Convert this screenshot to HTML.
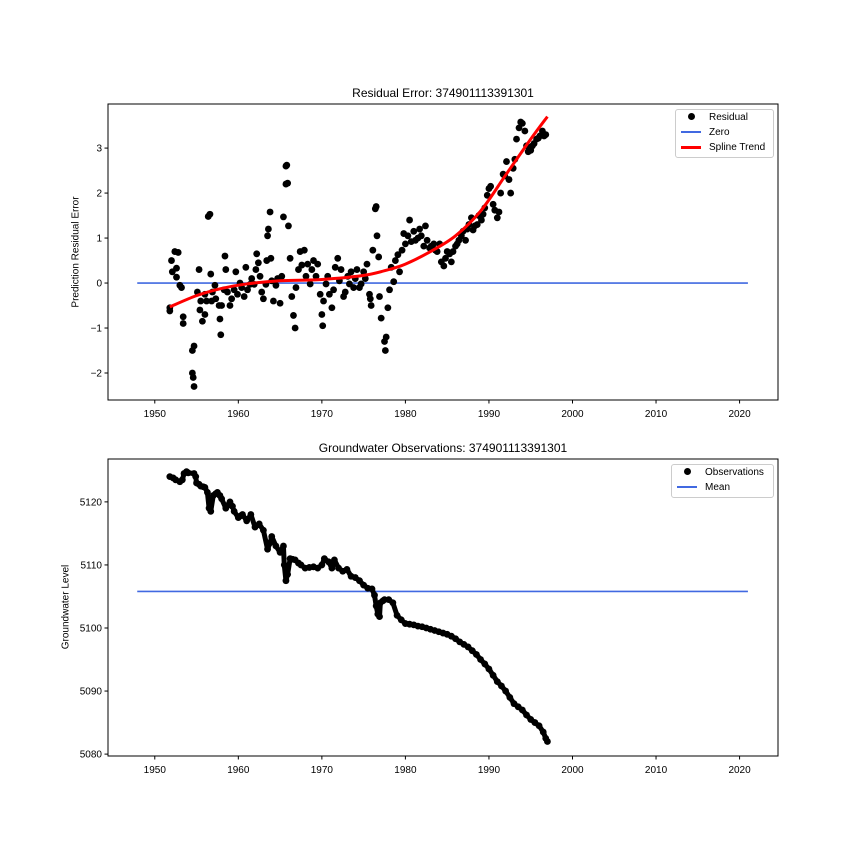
<!DOCTYPE html>
<html><head><meta charset="utf-8"><style>
body{margin:0;background:#fff;}
svg{display:block;font-family:"Liberation Sans","DejaVu Sans",sans-serif;}
</style></head><body>
<svg id="fig" width="864" height="864" viewBox="0 0 864 864"></svg>
<script>
// ---- Top chart data ----
const resYears=[1951.8,1951.8,1952.0,1952.1,1952.4,1952.8,1952.6,1952.6,1953.0,1953.2,1953.4,1953.4,
1954.5,1954.7,1954.5,1954.6,1954.7,1955.1,1955.3,1955.4,1955.5,1955.7,1956.0,1956.0,1956.2,
1956.4,1956.6,1956.7,1956.8,1956.9,1957.2,1957.3,1957.7,1957.8,1957.9,1958.0,1958.3,1958.4,1958.5,1958.7,1959.0,1959.2,1959.5,1959.7,1959.9,1960.2,
1960.4,1960.7,1960.9,1961.1,1961.4,1961.6,1961.9,1962.1,1962.2,1962.4,1962.6,1962.8,1963.0,1963.3,1963.4,1963.5,1963.6,1963.8,1963.9,1964.0,1964.2,1964.5,1964.7,1965.0,1965.2,
1965.4,1965.7,1965.8,1965.7,1965.9,1966.0,1966.2,1966.4,1966.6,1966.8,1966.9,1967.2,1967.4,1967.6,1967.9,1968.1,1968.3,1968.6,1968.8,1969.0,1969.3,1969.5,1969.8,1970.0,1970.1,1970.2,1970.5,1970.7,1970.9,1971.2,1971.4,1971.6,1971.9,1972.1,1972.3,1972.6,1972.8,1973.1,1973.3,1973.5,1973.8,1974.0,1974.2,1974.5,1974.7,1975.0,1975.2,1975.4,1975.7,1975.8,1975.9,1976.1,1976.4,1976.5,1976.6,1976.8,1976.9,1977.1,1977.5,1977.6,1977.7,1977.9,1978.1,1978.3,1978.6,1978.8,1979.1,1979.3,1979.6,1979.8,1980.0,1980.3,1980.5,1980.7,1981.0,1981.2,1981.5,1981.7,1981.9,1982.2,1982.4,1982.6,1982.9,1983.1,1983.4,1983.6,1983.8,1984.1,1984.3,1984.6,1984.8,1985.0,1985.3,1985.5,1985.7,1986.0,1986.2,1986.4,1986.7,1986.9,1987.2,1987.4,1987.6,1987.9,1988.1,1988.3,1988.6,1988.8,1989.1,1989.3,1989.5,1989.8,1990.0,1990.2,1990.5,1990.7,1991.0,1991.2,1991.4,1991.7,1991.9,1992.1,1992.4,1992.6,1992.9,1993.1,1993.3,1993.6,1993.8,1994.0,1994.3,1994.5,1994.7,1995.0,1995.2,1995.4,1995.7,1995.9,1996.1,1996.4,1996.6,1996.8];
const residuals=[-0.62,-0.55,0.5,0.25,0.7,0.68,0.33,0.13,-0.05,-0.1,-0.9,-0.75,
-1.5,-1.4,-2.0,-2.1,-2.3,-0.2,0.3,-0.6,-0.4,-0.85,-0.7,-0.25,-0.4,
1.48,1.53,0.2,-0.4,-0.2,-0.05,-0.35,-0.5,-0.8,-1.15,-0.5,-0.15,0.6,0.3,-0.2,-0.5,-0.35,-0.15,0.25,-0.25,0.0,
-0.1,-0.3,0.35,-0.15,-0.03,0.1,-0.03,0.3,0.65,0.45,0.15,-0.2,-0.35,-0.03,0.5,1.05,1.2,1.58,0.55,0.05,-0.4,-0.05,0.1,-0.45,0.15,
1.47,2.6,2.62,2.2,2.22,1.27,0.55,-0.3,-0.72,-1.0,-0.1,0.3,0.7,0.4,0.73,0.15,0.42,-0.02,0.3,0.5,0.15,0.42,-0.25,-0.7,-0.95,-0.4,-0.02,0.15,-0.25,-0.55,-0.15,0.35,0.55,0.05,0.3,-0.3,-0.2,0.15,-0.02,0.25,-0.1,0.1,0.3,-0.1,-0.02,0.25,0.1,0.42,-0.25,-0.35,-0.5,0.73,1.65,1.7,1.05,0.58,-0.3,-0.78,-1.3,-1.5,-1.2,-0.55,-0.15,0.35,0.03,0.5,0.63,0.25,0.73,1.1,0.87,1.05,1.4,0.92,1.15,0.95,1.0,1.2,1.05,0.82,1.27,0.95,0.78,0.82,0.87,0.73,0.7,0.87,0.47,0.38,0.55,0.7,0.65,0.47,0.7,0.82,0.87,0.95,1.05,1.15,0.95,1.2,1.3,1.45,1.18,1.27,1.3,1.5,1.4,1.53,1.67,1.95,2.1,2.15,1.75,1.62,1.45,1.58,2.0,2.42,2.38,2.7,2.3,2.0,2.55,2.75,3.2,3.45,3.58,3.55,3.38,3.05,2.92,2.95,3.05,3.1,3.2,3.22,3.27,3.38,3.27,3.3];
const splineYears=[1951.8,1955,1958,1961,1965,1970,1975,1978,1980,1983,1986,1989,1992,1995,1997];
const splineVals=[-0.53,-0.28,-0.12,-0.02,0.05,0.08,0.17,0.3,0.42,0.7,1.05,1.6,2.4,3.2,3.7];
const topYTicks=[-2,-1,0,1,2,3];
// ---- Bottom chart data ----
const obsYears=[1951.8,1952.2,1952.5,1953,1953.3,1953.5,1953.8,1954,1954.7,1954.9,1955,1955.3,1955.5,1955.8,1956,1956.3,1956.5,1956.7,1957,1957.3,1957.5,1957.8,1958,1958.5,1958.8,1959,1959.3,1959.5,1960,1960.3,1960.5,1961,1961.5,1962,1962.5,1963,1963.5,1963.8,1964,1964.5,1965,1965.4,1965.5,1965.7,1965.9,1966.2,1966.5,1966.8,1967.2,1967.5,1968,1968.5,1969,1969.5,1970,1970.3,1970.8,1971.2,1971.5,1972,1972.5,1973,1973.5,1974,1974.5,1975,1975.5,1976,1976.3,1976.5,1976.7,1976.9,1977,1977.3,1977.5,1978,1978.5,1979,1979.5,1980,1980.5,1981,1981.5,1982,1982.5,1983,1983.5,1984,1984.5,1985,1985.5,1986,1986.5,1987,1987.5,1988,1988.5,1989,1989.5,1990,1990.5,1991,1991.5,1992,1992.5,1993,1993.5,1994,1994.5,1995,1995.5,1996,1996.5,1996.8,1997];
const obsLevels=[5124,5123.8,5123.5,5123.2,5123.5,5124.5,5124.8,5124.6,5124.5,5124,5123,5122.8,5122.5,5122.4,5122.3,5121.5,5119,5118.5,5121,5121.3,5121.5,5121,5120.5,5119,5119.5,5120,5119.3,5118.5,5117.5,5117.8,5118,5117,5118,5116,5116.5,5115.5,5112.5,5113.5,5114.5,5113,5112,5113,5110,5107.5,5108.5,5111,5110.9,5110.8,5110.3,5110,5109.5,5109.6,5109.7,5109.5,5110,5111,5110.5,5109.5,5110.8,5109.5,5109,5109.3,5108.2,5108,5107.5,5106.8,5106.3,5106.2,5105.2,5103.5,5102.2,5101.8,5104,5104.3,5104.5,5104.5,5104,5102,5101.3,5100.7,5100.6,5100.5,5100.3,5100.2,5100,5099.8,5099.6,5099.4,5099.2,5099,5098.7,5098.3,5097.8,5097.4,5097,5096.4,5095.8,5095,5094.3,5093.5,5092.5,5091.5,5090.8,5090,5089,5088,5087.5,5087,5086.2,5085.5,5085,5084.5,5083.5,5082.5,5082];
const meanLevel=5105.8;
const botYTicks=[5080,5090,5100,5110,5120];
const xTicks=[1950,1960,1970,1980,1990,2000,2010,2020];

const NS="http://www.w3.org/2000/svg";
const svg=document.getElementById('fig');
function mk(tag,attrs,parent){const e=document.createElementNS(NS,tag);for(const k in attrs)e.setAttribute(k,attrs[k]);(parent||svg).appendChild(e);return e;}
const L=108,R=778,xMin=1944.4,xMax=2024.6;
const xs=v=>L+(v-xMin)/(xMax-xMin)*(R-L);
function axes(top,bot,yMin,yMax,name){
  const ys=v=>bot-(v-yMin)/(yMax-yMin)*(bot-top);
  const g=mk('g',{});
  
  
  return {g,ys};
}
function frame(g,top,bot,ys,ticks,fmt){
  const r=mk('rect',{x:L,y:top,width:R-L,height:bot-top,fill:'none',stroke:'#000','stroke-width':1},g);
  
  
  xTicks.forEach(t=>{const x=xs(t);
    mk('line',{x1:x,x2:x,y1:bot,y2:bot+3.5,stroke:'#000'},g);
    const tx=mk('text',{x:x,y:bot+17,'font-size':10,'text-anchor':'middle'},g);tx.textContent=t;
    
    });
  ticks.forEach(t=>{const y=ys(t);
    mk('line',{x1:L-3.5,x2:L,y1:y,y2:y,stroke:'#000'},g);
    const tx=mk('text',{x:L-6,y:y+3.5,'font-size':10,'text-anchor':'end'},g);tx.textContent=fmt(t);
    
    });
}
// Top
const A=axes(104,400,-2.6,3.98,'residual-chart');
frame(A.g,104,400,A.ys,topYTicks,t=>t<0?'\u2212'+(-t):String(t));
const z=mk('line',{x1:xs(1947.9),x2:xs(2021),y1:A.ys(0),y2:A.ys(0),stroke:'#4169e1','stroke-width':1.6},A.g);


resYears.forEach((yr,i)=>{const c=mk('circle',{cx:xs(yr),cy:A.ys(residuals[i]),r:3.4,fill:'#000'},A.g);
  
  });
(function(){const P=splineYears.map((y,i)=>[xs(y),A.ys(splineVals[i])]);
  let d='M'+P[0][0]+','+P[0][1];
  for(let i=0;i<P.length-1;i++){const p0=P[Math.max(0,i-1)],p1=P[i],p2=P[i+1],p3=P[Math.min(P.length-1,i+2)];
    d+=' C'+(p1[0]+(p2[0]-p0[0])/6)+','+(p1[1]+(p2[1]-p0[1])/6)+' '+(p2[0]-(p3[0]-p1[0])/6)+','+(p2[1]-(p3[1]-p1[1])/6)+' '+p2[0]+','+p2[1];}
  const s=mk('path',{d:d,fill:'none',stroke:'#f00','stroke-width':3},A.g);
  
  })();
// Bottom
const B=axes(459,756,5079.7,5126.8,'observations-chart');
frame(B.g,459,756,B.ys,botYTicks,t=>String(t));
const m=mk('line',{x1:xs(1947.9),x2:xs(2021),y1:B.ys(meanLevel),y2:B.ys(meanLevel),stroke:'#4169e1','stroke-width':1.6},B.g);


const band=mk('polyline',{points:obsYears.map((yr,i)=>xs(yr)+','+B.ys(obsLevels[i])).join(' '),fill:'none',stroke:'#000','stroke-width':5,'stroke-linejoin':'round','stroke-linecap':'round'},B.g);


obsYears.forEach((yr,i)=>{const c=mk('circle',{cx:xs(yr),cy:B.ys(obsLevels[i]),r:3.4,fill:'#000'},B.g);
  
  });
</script>
<div style="position:absolute;left:0;top:0;width:864px;height:864px;pointer-events:none;font-family:'Liberation Sans','DejaVu Sans',sans-serif;">
  <div style="position:absolute;left:108px;width:670px;top:86px;text-align:center;font-size:12px;">Residual Error: 374901113391301</div>
  <div style="position:absolute;left:108px;width:670px;top:441px;text-align:center;font-size:12px;">Groundwater Observations: 374901113391301</div>
  <div style="position:absolute;left:76px;top:252px;transform:translate(-50%,-50%) rotate(-90deg);white-space:nowrap;font-size:10px;">Prediction Residual Error</div>
  <div style="position:absolute;left:66px;top:607px;transform:translate(-50%,-50%) rotate(-90deg);white-space:nowrap;font-size:10px;">Groundwater Level</div>
  <div style="position:absolute;left:675px;top:109px;width:97px;height:47px;border:1px solid #ccc;border-radius:3px;background:#fff;font-size:10px;">
    <div style="position:absolute;left:5px;top:2px;"><span style="display:inline-block;width:7px;height:7px;border-radius:50%;background:#000;margin:0 14px 0 7px;"></span>Residual</div>
    <div style="position:absolute;left:5px;top:17px;"><span style="display:inline-block;width:20px;height:2px;background:#4169e1;vertical-align:middle;margin-right:8px;"></span>Zero</div>
    <div style="position:absolute;left:5px;top:32px;"><span style="display:inline-block;width:20px;height:3px;background:#f00;vertical-align:middle;margin-right:8px;"></span>Spline Trend</div>
  </div>
  <div style="position:absolute;left:671px;top:464px;width:101px;height:32px;border:1px solid #ccc;border-radius:3px;background:#fff;font-size:10px;">
    <div style="position:absolute;left:5px;top:2px;"><span style="display:inline-block;width:7px;height:7px;border-radius:50%;background:#000;margin:0 14px 0 7px;"></span>Observations</div>
    <div style="position:absolute;left:5px;top:17px;"><span style="display:inline-block;width:20px;height:2px;background:#4169e1;vertical-align:middle;margin-right:8px;"></span>Mean</div>
  </div>
</div>
</body></html>
